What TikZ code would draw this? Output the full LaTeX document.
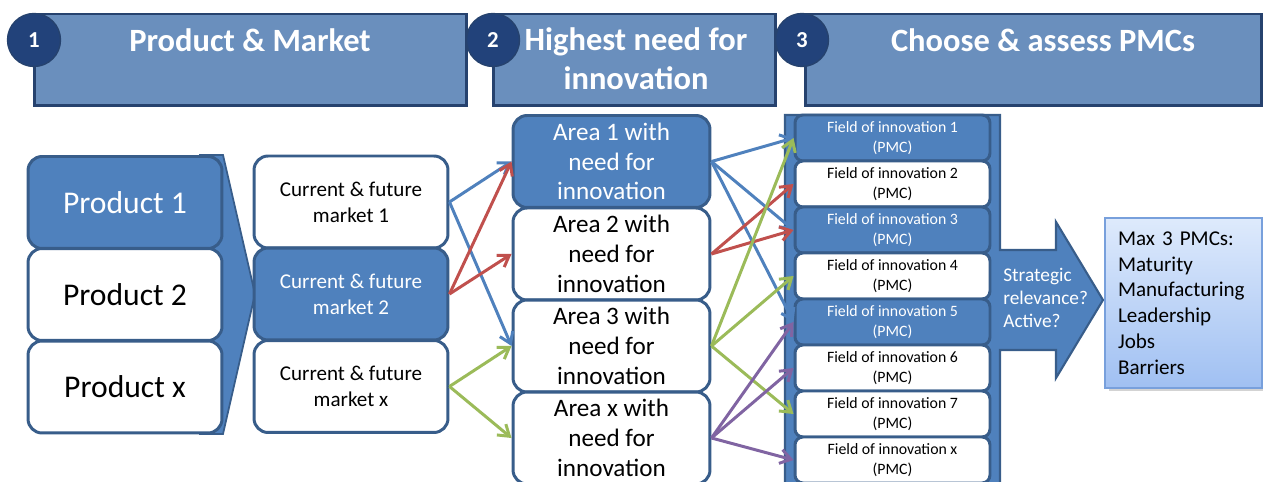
\documentclass[tikz,border=0pt]{standalone}
\usepackage{fontspec}
\setmainfont{Carlito}
\usetikzlibrary{arrows.meta,shadows}

\definecolor{accBlue}{HTML}{4F81BD}
\definecolor{lineBlue}{HTML}{385D8A}
\definecolor{headFill}{RGB}{106,143,189}
\definecolor{headLine}{RGB}{38,66,110}
\definecolor{numFill}{RGB}{34,66,122}
\definecolor{arrBlue}{HTML}{4F81BD}
\definecolor{arrRed}{HTML}{C0504D}
\definecolor{arrGreen}{HTML}{9BBB59}
\definecolor{arrPurple}{HTML}{8064A2}
\definecolor{resTop}{RGB}{222,234,252}
\definecolor{resBot}{RGB}{160,192,242}
\definecolor{resLine}{RGB}{120,160,220}

\begin{document}
\begin{tikzpicture}[x=0.02cm, y=-0.02cm,
    head/.style={draw=headLine, fill=headFill, line width=1.7pt, minimum height=1.84cm},
    title/.style={text=white, inner sep=0pt, align=center, font=\bfseries\fontsize{18.5}{22}\selectfont},
    num/.style={circle, draw=headLine, fill=numFill, line width=0.8pt, minimum size=1.06cm,
      inner sep=0pt, text=white, font=\bfseries\fontsize{13}{14}\selectfont},
    box/.style={draw=lineBlue, line width=1.7pt, rounded corners=8pt, fill=white, inner sep=1pt, align=center},
    hot/.style={fill=accBlue, text=white},
    prod/.style={box, minimum width=3.88cm, minimum height=1.84cm, font=\fontsize{18}{21}\selectfont},
    mkt/.style={box, minimum width=3.88cm, minimum height=1.84cm, font=\fontsize{12}{14.7}\selectfont},
    area/.style={box, minimum width=3.94cm, minimum height=1.84cm, font=\fontsize{14.3}{17}\selectfont},
    field/.style={box, rounded corners=4.5pt, minimum width=3.9cm, minimum height=0.92cm,
      font=\fontsize{9}{11.3}\selectfont},
    arr/.style={line width=1.7pt, -{Straight Barb[length=6pt,width=8pt]}},
  ]
  \clip (0,0) rectangle (1263,482);

  % headers
  \node (Head1N) at (250.5,60)  [head, minimum width=8.66cm] {};
  \node (Head2N) at (634.5,60)  [head, minimum width=5.66cm] {};
  \node (Head3N) at (1033.5,60) [head, minimum width=9.14cm] {};

  \node (Title1N) at (250,40)   [title] {Product \& Market};
  \node (Title2N) at (636,59)   [title] {Highest need for\\innovation};
  \node (Title3N) at (1043,40)  [title] {Choose \& assess PMCs};

  \node (Num1N) at (34,40)  [num] {1};
  \node (Num2N) at (493,40) [num] {2};
  \node (Num3N) at (802,40) [num] {3};

  % chevron behind the products
  \filldraw[fill=accBlue, draw=lineBlue, line width=1pt]
    (200,155) -- (223,155) -- (255,294) -- (223,434) -- (200,434) -- cycle;

  \node (Prod1N) at (125,202.5) [prod, hot] {Product 1};
  \node (Prod2N) at (125,294.5) [prod]      {Product 2};
  \node (ProdXN) at (125,387)   [prod]      {Product x};

  \node (Mkt1N)  at (351,202)   [mkt]       {Current \& future\\market 1};
  \node (Mkt2N)  at (351,294)   [mkt, hot]  {Current \& future\\market 2};
  \node (MktXN)  at (351,386.5) [mkt]       {Current \& future\\market x};

  \node (Area1N) at (611.5,161.5) [area, hot] {Area 1 with\\need for\\innovation};
  \node (Area2N) at (611.5,254)   [area]      {Area 2 with\\need for\\innovation};
  \node (Area3N) at (611.5,346)   [area]      {Area 3 with\\need for\\innovation};
  \node (AreaXN) at (611.5,438)   [area]      {Area x with\\need for\\innovation};

  % panel with the arrow to the result
  \filldraw[fill=accBlue, draw=lineBlue, line width=1.2pt]
    (785,115) -- (1000,115) -- (1000,250) -- (1056,250) -- (1056,222) -- (1103,300)
    -- (1056,378) -- (1056,350) -- (1000,350) -- (1000,495) -- (785,495) -- cycle;

  \node (Field1N) at (892.5,138) [field, hot] {Field of innovation 1\\(PMC)};
  \node (Field2N) at (892.5,184) [field]      {Field of innovation 2\\(PMC)};
  \node (Field3N) at (892.5,230) [field, hot] {Field of innovation 3\\(PMC)};
  \node (Field4N) at (892.5,276) [field]      {Field of innovation 4\\(PMC)};
  \node (Field5N) at (892.5,322) [field, hot] {Field of innovation 5\\(PMC)};
  \node (Field6N) at (892.5,368) [field]      {Field of innovation 6\\(PMC)};
  \node (Field7N) at (892.5,414) [field]      {Field of innovation 7\\(PMC)};
  \node (FieldXN) at (892.5,460) [field]      {Field of innovation x\\(PMC)};

  \node (StratN) at (1003,298) [anchor=west, align=left, inner sep=0pt, text=white,
    font=\fontsize{11}{13.2}\selectfont] {Strategic\\relevance?\\Active?};

  \node (ResultN) at (1183.5,303) [draw=resLine, line width=1pt, top color=resTop, bottom color=resBot,
    drop shadow={shadow xshift=2pt, shadow yshift=-2pt, opacity=0.35},
    minimum width=3.14cm, minimum height=3.4cm, inner xsep=0.26cm, text width=2.62cm, align=left,
    font=\fontsize{12}{14.7}\selectfont]
    {Max 3 PMCs:\\Maturity\\Manufacturing\\Leadership\\Jobs\\Barriers};

  % markets to areas
  \draw [arr, arrBlue]   (Mkt1N.east) -- (Area1N.west);
  \draw [arr, arrBlue]   (Mkt1N.east) -- (Area3N.west);
  \draw [arr, arrRed]    (Mkt2N.east) -- (Area1N.west);
  \draw [arr, arrRed]    (Mkt2N.east) -- (Area2N.west);
  \draw [arr, arrGreen]  (MktXN.east) -- (Area3N.west);
  \draw [arr, arrGreen]  (MktXN.east) -- (AreaXN.west);

  % areas to fields
  \draw [arr, arrBlue]   (Area1N.east) -- (Field1N.west);
  \draw [arr, arrBlue]   (Area1N.east) -- (Field3N.west);
  \draw [arr, arrBlue]   (Area1N.east) -- (Field5N.west);
  \draw [arr, arrRed]    (Area2N.east) -- (Field2N.west);
  \draw [arr, arrRed]    (Area2N.east) -- (Field3N.west);
  \draw [arr, arrGreen]  (Area3N.east) -- (Field1N.west);
  \draw [arr, arrGreen]  (Area3N.east) -- (Field4N.west);
  \draw [arr, arrGreen]  (Area3N.east) -- (Field7N.west);
  \draw [arr, arrPurple] (AreaXN.east) -- (Field5N.west);
  \draw [arr, arrPurple] (AreaXN.east) -- (Field6N.west);
  \draw [arr, arrPurple] (AreaXN.east) -- (FieldXN.west);
\end{tikzpicture}
\end{document}
